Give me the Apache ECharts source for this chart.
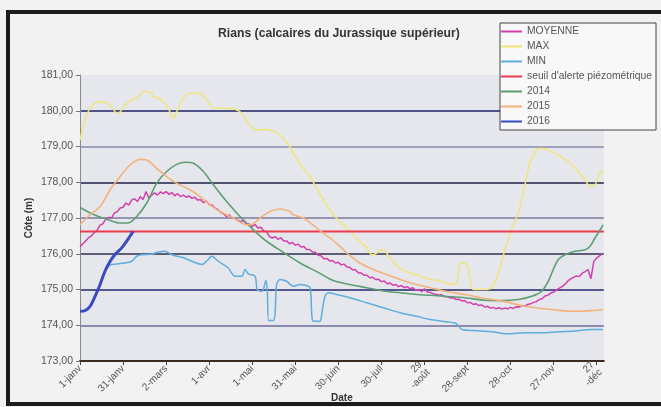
<!DOCTYPE html>
<html><head><meta charset="utf-8">
<script src="https://cdn.jsdelivr.net/npm/echarts@6/dist/echarts.min.js"></script>
<style>html,body{margin:0;padding:0;background:#f2f2f2}#c{width:661px;height:407px}</style>
</head><body><div id="c"></div>
<script>
// Day of year (0 = 1 janv) for x; values are water level (m)
const xTickDays = [0,30,60,90,120,150,180,210,240,270,300,330,360];
const xTickLabels = ['1-janv','31-janv','2-mars','1-avr','1-mai','31-mai','30-juin','30-juil','29\n-août','28-sept','28-oct','27-nov','27\n-déc'];

// MOYENNE sampled every 2 days starting on day 0
const moyenneStep = 2;
const moyenne = [176.20,176.28,176.36,176.45,176.50,176.60,176.66,176.80,176.84,176.97,177.02,177.00,177.14,177.18,177.28,177.30,177.42,177.36,177.50,177.54,177.46,177.60,177.52,177.74,177.56,177.64,177.70,177.64,177.73,177.68,177.74,177.66,177.71,177.62,177.68,177.60,177.64,177.58,177.62,177.55,177.58,177.50,177.52,177.43,177.47,177.38,177.36,177.28,177.24,177.16,177.12,177.04,177.09,177.00,176.99,176.93,176.90,176.93,176.84,176.83,176.76,176.82,176.72,176.74,176.64,176.62,176.48,176.44,176.48,176.40,176.45,176.36,176.36,176.28,176.32,176.24,176.27,176.19,176.20,176.12,176.12,176.05,176.04,175.96,175.94,175.86,175.87,175.80,175.81,175.74,175.76,175.69,175.71,175.63,175.62,175.55,175.55,175.46,175.46,175.40,175.40,175.33,175.34,175.28,175.29,175.22,175.24,175.16,175.18,175.12,175.14,175.08,175.11,175.05,175.08,175.02,175.05,174.98,175.00,174.94,175.02,174.93,174.92,174.88,174.87,174.84,174.85,174.80,174.80,174.76,174.77,174.72,174.73,174.68,174.69,174.63,174.64,174.58,174.60,174.55,174.57,174.51,174.53,174.48,174.50,174.46,174.49,174.45,174.48,174.46,174.50,174.47,174.52,174.51,174.55,174.54,174.58,174.60,174.64,174.66,174.72,174.74,174.82,174.84,174.90,174.93,174.98,175.04,175.08,175.15,175.24,175.30,175.34,175.38,175.36,175.46,175.50,175.56,175.30,175.78,175.88,175.94,176.00];

const maxSerie = [[0,179.18],[3,179.7],[6,180.0],[10,180.2],[14,180.25],[18,180.23],[22,180.1],[25.6,179.94],[28,179.97],[31.4,180.16],[36,180.3],[40.6,180.39],[43,180.5],[46.5,180.53],[50,180.48],[51,180.39],[54.6,180.35],[58,180.25],[61.5,180.07],[65,179.79],[67.4,179.97],[71,180.3],[75.5,180.48],[80,180.5],[84.8,180.47],[88.3,180.3],[91.8,180.1],[94,180.07],[101,180.07],[108,180.04],[112.7,179.93],[117.3,179.65],[123,179.46],[127.7,179.48],[132.4,179.46],[137,179.39],[141.7,179.23],[146,179.0],[153,178.53],[161.5,178.07],[169.5,177.51],[177.7,177.04],[186,176.72],[195,176.35],[200,176.16],[203.3,175.97],[206.8,176.02],[209,176.11],[211.4,176.11],[216,175.88],[223,175.6],[230,175.46],[237,175.37],[244,175.28],[250,175.25],[259,175.14],[262.5,175.2],[264,175.6],[266,175.74],[269.5,175.7],[271.8,175.32],[274,175.0],[281,175.0],[287,175.05],[291.5,175.45],[296,176.1],[301,176.7],[305,177.1],[308,177.55],[311,178.1],[314,178.6],[318,178.9],[321,178.95],[326.3,178.9],[333.3,178.76],[340.3,178.58],[347.2,178.3],[352,178.07],[355.4,177.88],[358.9,177.93],[361.2,178.16],[364.5,178.35]];

const minSerie = [[0,174.39],[3.5,174.41],[7,174.53],[10.5,174.81],[14,175.14],[17.4,175.51],[20,175.66],[22,175.7],[31.4,175.74],[36,175.79],[39.5,175.93],[43,175.97],[50,175.99],[54.6,176.05],[59.2,176.07],[64,175.97],[71,175.9],[78,175.79],[84.8,175.7],[89.4,175.84],[91.8,175.93],[96.4,175.79],[103.3,175.6],[108,175.37],[112.7,175.37],[115,175.56],[117.3,175.44],[122,175.37],[123.5,175.0],[127,174.95],[129.5,175.25],[130.5,175.0],[131.5,174.13],[134.7,174.13],[135.9,174.3],[137,175.14],[139.4,175.28],[144,175.23],[148.6,175.09],[153.3,175.14],[156.8,175.12],[160.3,175.05],[161.5,174.3],[162.6,174.11],[167.2,174.11],[168.4,174.3],[170.7,174.81],[173,174.91],[178.9,174.86],[188,174.77],[199.8,174.63],[211.4,174.49],[223,174.35],[234.6,174.25],[244,174.16],[254.4,174.1],[262.5,174.04],[266,173.88],[275,173.85],[287,173.82],[298.3,173.76],[310,173.79],[321.7,173.79],[333.3,173.82],[345,173.84],[356.6,173.88],[364.5,173.88]];

const seuil = [[0,176.62],[365,176.62]];

const y2014 = [[0,177.3],[7,177.14],[14,177.03],[21,176.93],[28,176.86],[33.7,176.86],[39.5,177.04],[46.5,177.42],[53.4,177.97],[60.4,178.3],[67.4,178.5],[73.2,178.56],[79,178.53],[86,178.3],[92.9,177.93],[102.2,177.46],[111.5,177.04],[120.8,176.67],[130,176.35],[141.7,176.04],[153.3,175.74],[165,175.5],[176.5,175.25],[188,175.14],[199.8,175.05],[211.4,174.96],[223,174.91],[234.6,174.86],[244,174.84],[254.4,174.81],[268.3,174.77],[282.2,174.7],[293.9,174.69],[305.4,174.72],[314.8,174.81],[321.7,174.95],[326.3,175.23],[329.8,175.56],[333.3,175.84],[338.3,175.98],[345,176.07],[352,176.11],[355.4,176.21],[358.9,176.44],[362.4,176.67],[364.5,176.81]];

const y2015 = [[0,176.81],[7,177.09],[14,177.32],[21,177.79],[28,178.16],[35,178.49],[41.8,178.64],[46.5,178.62],[53.4,178.39],[60.4,178.16],[67.4,177.97],[76.7,177.79],[83.6,177.6],[90.6,177.37],[97.6,177.18],[106.8,177.0],[116.2,176.81],[120,176.82],[125.4,177.0],[132.4,177.18],[139.4,177.25],[146.3,177.18],[148.6,177.09],[155.6,177.0],[160,176.88],[165,176.72],[170,176.56],[174,176.45],[177,176.35],[182,176.17],[186,176.02],[195,175.74],[204.4,175.56],[213.7,175.42],[223,175.28],[234.6,175.14],[244,175.05],[254.4,174.95],[268.3,174.86],[282.2,174.75],[296.2,174.66],[310,174.53],[321.7,174.47],[333.3,174.42],[345,174.39],[356.6,174.41],[364.5,174.44]];

const y2016 = [[0,174.39],[3.5,174.41],[7,174.53],[10.5,174.81],[14,175.14],[17.4,175.51],[21,175.79],[24.4,175.98],[29,176.16],[32.5,176.35],[34.8,176.49],[37.1,176.63]];

const seriesNames = ['MOYENNE','MAX','MIN',"seuil d'alerte piézométrique",'2014','2015','2016'];
const seriesColors = ['#d23fae','#f0e57a','#5eaee0','#ec3a50','#5c9e70','#f3b27a','#3b4cc0'];
const seriesWidths = [1.5,1.5,1.5,2,1.6,1.6,3];

const moyData = moyenne.map((v,i)=>[i*moyenneStep, v]);
const allData = [moyData, maxSerie, minSerie, seuil, y2014, y2015, y2016];

const FONT = 'Liberation Sans, Arial, sans-serif';
const chart = echarts.init(document.getElementById('c'), null, {renderer:'canvas'});
chart.setOption({
  animation: false,
  backgroundColor: '#f2f2f2',
  textStyle: {fontFamily: FONT},
  title: {
    text: 'Rians (calcaires du Jurassique supérieur)',
    left: 213, top: 23,
    textStyle: {fontSize: 12.2, fontWeight: 'bold', color: '#333', fontFamily: FONT}
  },
  graphic: [{
    type: 'rect', z: 100, silent: true,
    shape: {x: 8, y: 12, width: 700, height: 392},
    style: {fill: 'none', stroke: '#1c1c1c', lineWidth: 4}
  }],
  legend: {
    orient: 'vertical', left: 500, top: 23,
    icon: 'rect', itemWidth: 21, itemHeight: 2, itemGap: 4,
    padding: [3, 4, 3, 1],
    backgroundColor: '#f8f8f8', borderColor: '#444', borderWidth: 1,
    textStyle: {fontSize: 10.3, color: '#555', lineHeight: 11, fontFamily: FONT},
    data: seriesNames
  },
  grid: {
    left: 80, top: 75, width: 523.8, height: 286,
    outerBoundsMode: 'none', containLabel: false,
    show: true, backgroundColor: '#e6e7ed', borderWidth: 0
  },
  xAxis: {
    type: 'value', min: 0, max: 365,
    name: 'Date', nameLocation: 'middle', nameGap: 32, nameMoveOverlap: false,
    nameTextStyle: {fontSize: 10, fontWeight: 'bold', color: '#333'},
    axisLine: {show: true, lineStyle: {color: '#3a2a20', width: 2}},
    axisTick: {show: true, customValues: xTickDays, length: 4, lineStyle: {color: '#444'}},
    axisLabel: {
      customValues: xTickDays, rotate: 45, fontSize: 10, color: '#555', margin: 6, lineHeight: 11,
      formatter: v => { const i = xTickDays.indexOf(Math.round(v)); return i >= 0 ? xTickLabels[i] : ''; }
    },
    splitLine: {show: false}
  },
  yAxis: {
    type: 'value', min: 173, max: 181, interval: 1,
    name: 'Côte (m)', nameLocation: 'middle', nameRotate: 90, nameGap: 46, nameMoveOverlap: false,
    nameTextStyle: {fontSize: 10, fontWeight: 'bold', color: '#333'},
    axisLine: {show: true, lineStyle: {color: '#8a8a8a', width: 1}},
    axisTick: {show: true, length: 4, lineStyle: {color: '#777'}},
    axisLabel: {fontSize: 10.5, color: '#555', margin: 7, formatter: v => v.toFixed(2).replace('.', ',')},
    splitLine: {
      show: true, showMaxLine: false,
      lineStyle: {width: 1.6, color: ['#3a2a20','#6e6a9a','#23286e','#2e3050','#7c7aa2','#1e2044','#8a88a8','#1c2266','rgba(0,0,0,0)']}
    }
  },
  series: allData.map((d, i) => ({
    name: seriesNames[i], type: 'line', data: d,
    showSymbol: false, symbol: 'none', smooth: i === 0 ? false : 0.3,
    color: seriesColors[i],
    lineStyle: {color: seriesColors[i], width: seriesWidths[i]},
    itemStyle: {color: seriesColors[i]},
    z: 2 + i
  }))
});
</script></body></html>
